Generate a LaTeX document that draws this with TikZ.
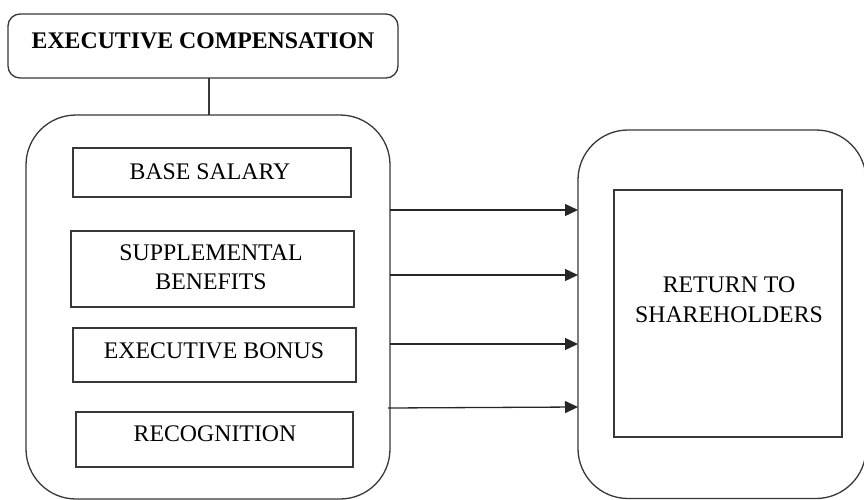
\documentclass[tikz,border=0pt]{standalone}
\usepackage{fontspec}
\setmainfont{Liberation Serif}
\usetikzlibrary{arrows.meta}
\begin{document}
\begin{tikzpicture}[x=1pt,y=-1pt,
  line/.style={draw=black!78,line width=1.3pt},
  rbox/.style={line,rectangle,inner sep=0pt,outer sep=0pt},
  txt/.style={inner sep=0pt,outer sep=0pt,align=center,font=\fontsize{23.8}{29}\selectfont},
  arr/.style={draw=black!85,line width=1.3pt,-{Triangle[length=13pt,width=12pt]}}]
\useasboundingbox (0,0) rectangle (864,500);
% top box
\node[rbox,rounded corners=12pt,minimum width=390pt,minimum height=64pt] (T) at (203,46) {};
\node[txt,font=\fontsize{23.8}{29}\selectfont\bfseries] (Tt) at (203,41) {EXECUTIVE COMPENSATION};
% left big box
\node[rbox,rounded corners=50pt,minimum width=364pt,minimum height=384pt] (L) at (208,307) {};
% right big box
\node[rbox,rounded corners=50pt,minimum width=288pt,minimum height=368.5pt] (R) at (722,314.25) {};
% connector top -> left
\draw[line] (T.south -| 209,0) -- (L.north -| 209,0);
% inner boxes
\node[rbox,minimum width=278pt,minimum height=49pt] (b1) at (212,172.5) {};
\node[txt] (t1) at (210,171.4) {BASE SALARY};
\node[rbox,minimum width=283pt,minimum height=76pt] (b2) at (212.5,269) {};
\node[txt] (t2) at (211,267) {SUPPLEMENTAL\\BENEFITS};
\node[rbox,minimum width=283pt,minimum height=54pt] (b3) at (214.5,355) {};
\node[txt] (t3) at (214,351) {EXECUTIVE BONUS};
\node[rbox,minimum width=277pt,minimum height=55pt] (b4) at (214.5,439.5) {};
\node[txt] (t4) at (215,434) {RECOGNITION};
% right inner box
\node[rbox,minimum width=228pt,minimum height=247pt] (ri) at (728,313.5) {};
\node[txt,font=\fontsize{23.8}{30.5}\selectfont] (rt) at (729,299.5) {RETURN TO\\SHAREHOLDERS};
% arrows
\draw[arr] (L.east |- 0,210) -- (R.west |- 0,210);
\draw[arr] (L.east |- 0,275) -- (R.west |- 0,275);
\draw[arr] (L.east |- 0,344) -- (R.west |- 0,344);
\draw[arr] ([xshift=-2pt]L.east |- 0,408) -- (R.west |- 0,407);
\end{tikzpicture}
\end{document}
